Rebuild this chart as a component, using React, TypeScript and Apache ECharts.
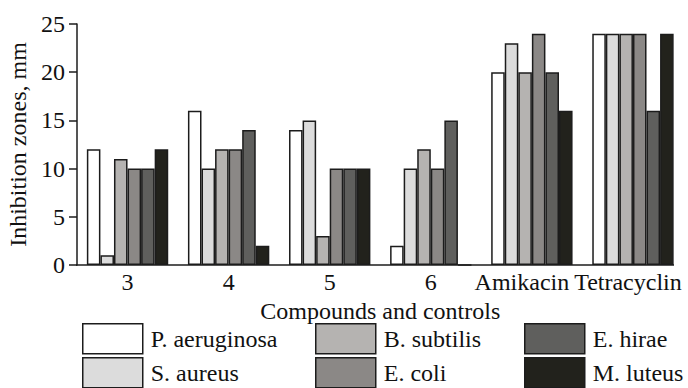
import React, { useEffect, useRef } from "react";
import * as echarts from "echarts";

const categories = ["3", "4", "5", "6", "Amikacin", "Tetracyclin"];
const seriesNames = ["P. aeruginosa", "S. aureus", "B. subtilis", "E. coli", "E. hirae", "M. luteus"];
const pAeruginosa = [12, 16, 14, 2, 20, 24];
const sAureus = [1, 10, 15, 10, 23, 24];
const bSubtilis = [11, 12, 3, 12, 20, 24];
const eColi = [10, 12, 10, 10, 24, 24];
const eHirae = [10, 14, 10, 15, 20, 16];
const mLuteus = [12, 2, 10, 0, 16, 24];
const seriesValues = [pAeruginosa, sAureus, bSubtilis, eColi, eHirae, mLuteus];
const colors = ["#ffffff", "#dcdcdc", "#b5b3b1", "#8b8886", "#5f5f5d", "#22221c"];
const yTicks = [0, 5, 10, 15, 20, 25];

const FONT = "'Liberation Serif', 'Times New Roman', serif";
const EDGE = "#1c1c1c";
const TEXT = "#111";
// small leftward nudges of the last two category labels so they fit, as in the reference
const labelShift: Record<string, number> = { Amikacin: 20, Tetracyclin: 10 };
// legend layout: 3 columns x 2 rows (column-major order)
const legendLefts = [82, 315, 524];
const legendTops = [323, 357];

export default function App() {
  const ref = useRef<HTMLDivElement>(null);
  useEffect(() => {
    if (!ref.current) return;
    const chart = echarts.init(ref.current, undefined, { renderer: "svg" });
    const legends = seriesNames.map((name, i) => ({
      orient: "horizontal",
      left: legendLefts[Math.floor(i / 2)],
      top: legendTops[i % 2],
      padding: 0,
      itemWidth: 60,
      itemHeight: 30,
      icon: "rect",
      selectedMode: false,
      data: [name],
      itemStyle: { borderColor: EDGE, borderWidth: 1.5 },
      textStyle: { fontFamily: FONT, fontSize: 24, color: TEXT, padding: [0, 0, 0, 3] },
    }));
    chart.setOption({
      animation: false,
      backgroundColor: "#ffffff",
      textStyle: { fontFamily: FONT },
      grid: { left: 77, right: 4.5, top: 24, bottom: 123, containLabel: false, outerBoundsMode: "none" },
      legend: legends,
      xAxis: {
        type: "category",
        data: categories.map((c) =>
          labelShift[c] ? { value: c, textStyle: { padding: [0, labelShift[c], 0, 0] } } : c
        ),
        name: "Compounds and controls",
        nameLocation: "middle",
        nameGap: 24,
        nameTextStyle: { fontFamily: FONT, fontSize: 24, color: TEXT },
        axisLine: { show: false },
        axisTick: { show: false },
        axisLabel: { fontFamily: FONT, fontSize: 24, color: TEXT, margin: 5, interval: 0, hideOverlap: false },
      },
      yAxis: {
        type: "value",
        min: yTicks[0],
        max: yTicks[yTicks.length - 1],
        interval: 5,
        name: "Inhibition zones, mm",
        nameLocation: "middle",
        nameGap: 44,
        nameTextStyle: { fontFamily: FONT, fontSize: 24, color: TEXT },
        axisLine: { show: true, lineStyle: { color: EDGE, width: 1.5 } },
        axisTick: { show: true, length: 8, lineStyle: { color: EDGE, width: 1.5 } },
        axisLabel: { fontFamily: FONT, fontSize: 24, color: TEXT, margin: 12 },
        splitLine: { show: false },
      },
      graphic: [
        {
          type: "line",
          shape: { x1: 76, y1: 265, x2: 674, y2: 265 },
          style: { stroke: EDGE, lineWidth: 1.5 },
          z: 100,
        },
      ],
      series: seriesNames.map((name, i) => ({
        name,
        type: "bar",
        data: seriesValues[i],
        barGap: "0%",
        barCategoryGap: "19.5%",
        itemStyle: { color: colors[i], borderColor: EDGE, borderWidth: 1.5 },
      })),
    });
    return () => chart.dispose();
  }, []);
  return (
    <div
      ref={ref}
      style={{ position: "fixed", left: 0, top: 0, width: 688, height: 388, background: "#fff" }}
    />
  );
}
